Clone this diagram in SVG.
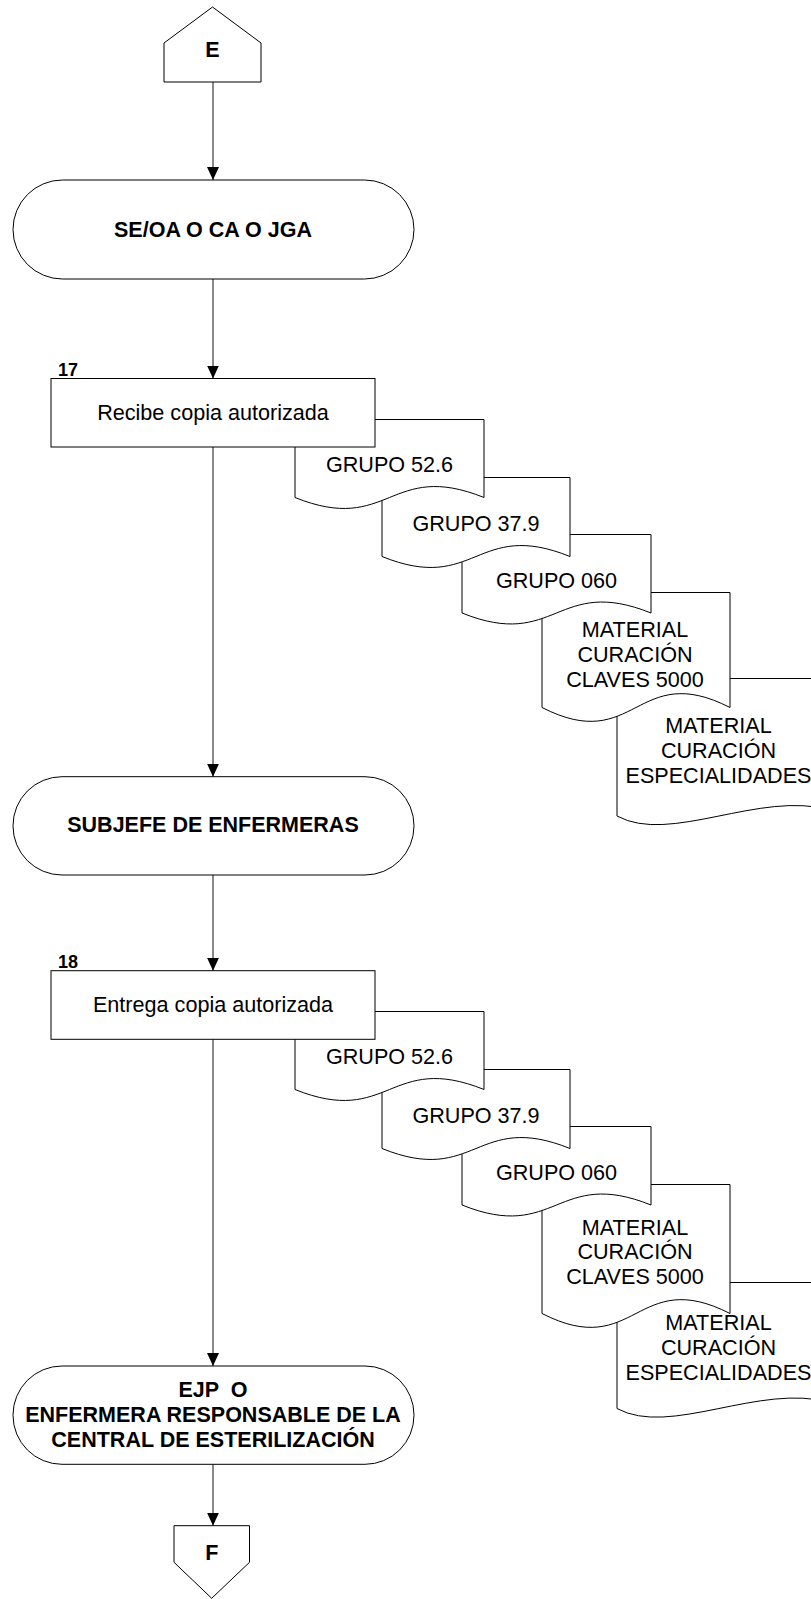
<svg xmlns="http://www.w3.org/2000/svg" width="811" height="1599" viewBox="0 0 811 1599">
  <style>
    .shape { fill: #ffffff; stroke: #000000; stroke-width: 1; }
    .conn { fill: none; stroke: #3a3a3a; stroke-width: 1.2; marker-end: url(#arrow); }
    .bold { font-family: "Liberation Sans", Arial, Helvetica, sans-serif; font-weight: bold; font-size: 21.5px; fill: #000; text-anchor: middle; }
    .reg { font-family: "Liberation Sans", Arial, Helvetica, sans-serif; font-size: 21.6px; fill: #000; text-anchor: middle; }
    .num { font-family: "Liberation Sans", Arial, Helvetica, sans-serif; font-weight: bold; font-size: 18px; fill: #000; }
  </style>
  <defs>
    <marker id="arrow" markerUnits="userSpaceOnUse" markerWidth="13" markerHeight="12" refX="13" refY="6" orient="auto">
      <path d="M0,0 L13,6 L0,12 Z" fill="#000"/>
    </marker>
  </defs>

  <rect width="811" height="1599" fill="#ffffff"/>

  <!-- connectors along the main flow -->
  <g id="connectors">
    <line class="conn" x1="213" y1="82" x2="213" y2="180"/>
    <line class="conn" x1="213" y1="279" x2="213" y2="378.5"/>
    <line class="conn" x1="213" y1="447" x2="213" y2="776.7"/>
    <line class="conn" x1="213" y1="875" x2="213" y2="970.7"/>
    <line class="conn" x1="213" y1="1039.3" x2="213" y2="1366"/>
    <line class="conn" x1="213" y1="1464.3" x2="213" y2="1525.7"/>
  </g>

  <!-- off-page connector E -->
  <g id="node-E">
    <path class="shape" d="M212.5,7 L261,43 L261,82 L164,82 L164,43 Z"/>
    <text class="bold" x="212.5" y="57" font-size="20">E</text>
  </g>

  <g id="node-se-oa">
    <rect class="shape" x="13" y="180" width="401" height="99" rx="49.5" ry="49.5"/>
    <text class="bold" x="213" y="236.5">SE/OA O CA O JGA</text>
  </g>

  <!-- documents of step 17 (drawn back to front) -->
  <g id="docs-17">
    <g id="doc17-5">
      <path class="shape" d="M617,678.5 H830 V810 C760,790 670,845 617,816 Z"/>
      <text class="reg" x="718.5" y="733.3">MATERIAL</text>
      <text class="reg" x="718.5" y="758.3">CURACIÓN</text>
      <text class="reg" x="718.5" y="783.3">ESPECIALIDADES</text>
    </g>
    <g id="doc17-4">
      <path class="shape" d="M542,592.5 H730 V707.5 C636,659.5 636,755.5 542,707.5 Z"/>
      <text class="reg" x="635" y="636.7">MATERIAL</text>
      <text class="reg" x="635" y="661.7">CURACIÓN</text>
      <text class="reg" x="635" y="686.7">CLAVES 5000</text>
    </g>
    <g id="doc17-3">
      <path class="shape" d="M462,534.5 H651 V613 C556.5,575 556.5,651 462,613 Z"/>
      <text class="reg" x="556.5" y="588">GRUPO 060</text>
    </g>
    <g id="doc17-2">
      <path class="shape" d="M382,477.5 H570 V556.5 C476,518.5 476,594.5 382,556.5 Z"/>
      <text class="reg" x="476" y="530.5">GRUPO 37.9</text>
    </g>
    <g id="doc17-1">
      <path class="shape" d="M295,419.5 H484 V497.5 C389.5,459.5 389.5,535.5 295,497.5 Z"/>
      <text class="reg" x="389.5" y="472">GRUPO 52.6</text>
    </g>
  </g>

  <g id="step-17">
    <rect class="shape" x="51" y="378.5" width="324" height="68.5"/>
    <text class="reg" x="213" y="420">Recibe copia autorizada</text>
    <text class="num" x="58" y="376">17</text>
  </g>

  <g id="node-subjefe">
    <rect class="shape" x="13" y="776.7" width="401" height="98.3" rx="49" ry="49"/>
    <text class="bold" x="213" y="831.7">SUBJEFE DE ENFERMERAS</text>
  </g>

  <!-- documents of step 18 (drawn back to front) -->
  <g id="docs-18">
    <g id="doc18-5">
      <path class="shape" d="M617,1282.5 H830 V1402.5 C760,1382.5 670,1437.5 617,1408.5 Z"/>
      <text class="reg" x="718.5" y="1330.3">MATERIAL</text>
      <text class="reg" x="718.5" y="1355.3">CURACIÓN</text>
      <text class="reg" x="718.5" y="1380.3">ESPECIALIDADES</text>
    </g>
    <g id="doc18-4">
      <path class="shape" d="M542,1184.5 H730 V1313.5 C636,1265.5 636,1361.5 542,1313.5 Z"/>
      <text class="reg" x="635" y="1234.7">MATERIAL</text>
      <text class="reg" x="635" y="1258.7">CURACIÓN</text>
      <text class="reg" x="635" y="1283.7">CLAVES 5000</text>
    </g>
    <g id="doc18-3">
      <path class="shape" d="M462,1126.5 H651 V1205 C556.5,1167 556.5,1243 462,1205 Z"/>
      <text class="reg" x="556.5" y="1180">GRUPO 060</text>
    </g>
    <g id="doc18-2">
      <path class="shape" d="M382,1069.5 H570 V1148.5 C476,1110.5 476,1186.5 382,1148.5 Z"/>
      <text class="reg" x="476" y="1122.5">GRUPO 37.9</text>
    </g>
    <g id="doc18-1">
      <path class="shape" d="M295,1011.5 H484 V1089.5 C389.5,1051.5 389.5,1127.5 295,1089.5 Z"/>
      <text class="reg" x="389.5" y="1064">GRUPO 52.6</text>
    </g>
  </g>

  <g id="step-18">
    <rect class="shape" x="51" y="970.7" width="324" height="68.6"/>
    <text class="reg" x="213" y="1011.7">Entrega copia autorizada</text>
    <text class="num" x="58" y="968.3">18</text>
  </g>

  <g id="node-ejp">
    <rect class="shape" x="13" y="1366" width="401" height="98.3" rx="49" ry="49"/>
    <text class="bold" x="213" y="1396.7" xml:space="preserve">EJP  O</text>
    <text class="bold" x="213" y="1422.3">ENFERMERA RESPONSABLE DE LA</text>
    <text class="bold" x="213" y="1447.3">CENTRAL DE ESTERILIZACIÓN</text>
  </g>

  <!-- off-page connector F -->
  <g id="node-F">
    <path class="shape" d="M174,1525.7 L249.5,1525.7 L249.5,1562.3 L211.7,1598.3 L174,1562.3 Z"/>
    <text class="bold" x="211.7" y="1560" font-size="22">F</text>
  </g>
</svg>
